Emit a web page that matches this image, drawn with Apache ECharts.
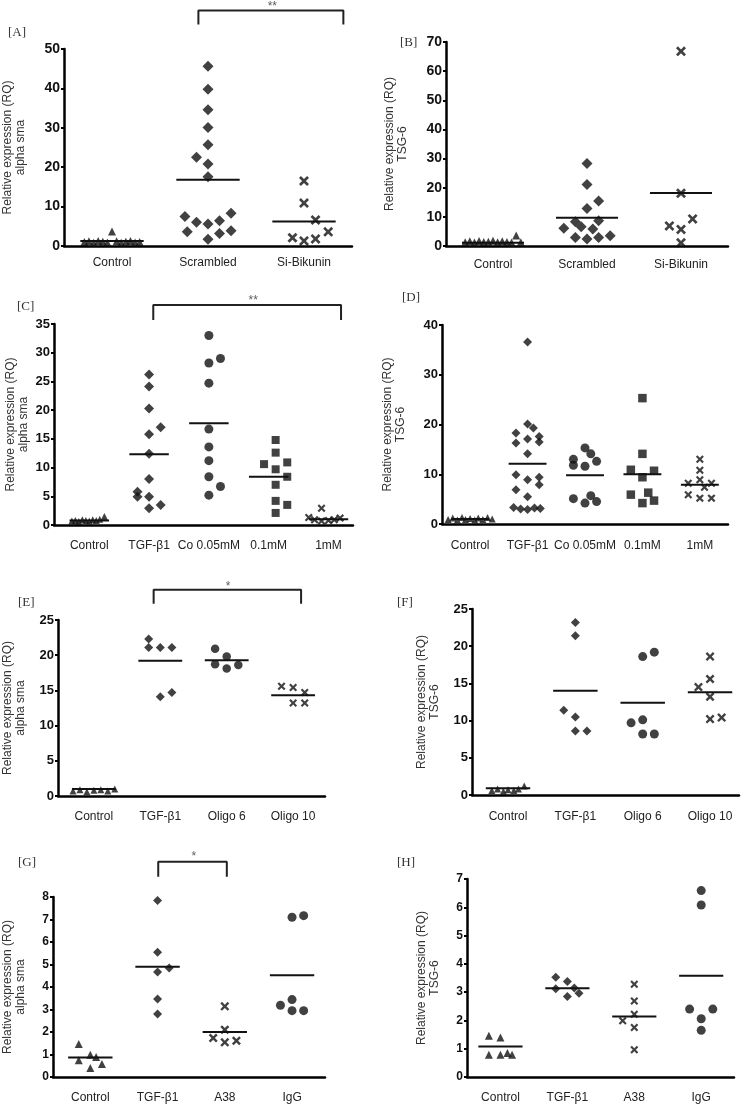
<!DOCTYPE html>
<html>
<head>
<meta charset="utf-8">
<script src="https://cdn.jsdelivr.net/npm/echarts@6/dist/echarts.min.js"></script>
<style>
  html, body { margin: 0; background: #fff; }
  #chart { width: 745px; height: 1106px; }
</style>
</head>
<body>
<div id="chart"></div>
<script>
// category labels
const catsA = ['Control', 'Scrambled', 'Si-Bikunin']
const catsC = ['Control', 'TGF-β1', 'Co 0.05mM', '0.1mM', '1mM']
const catsE = ['Control', 'TGF-β1', 'Oligo 6', 'Oligo 10']
const catsG = ['Control', 'TGF-β1', 'A38', 'IgG']

// values + horizontal spread (in dot columns)
// [A] alpha sma
const aControl = [1.0, 1.2, 0.8, 1.3, 1.1, 0.9, 3.7, 1.2, 0.8, 1.1, 1.3, 0.9, 1.0]
const aControlX = [-2.4, -2.0, -1.6, -1.2, -0.8, -0.4, 0, 0.4, 0.8, 1.2, 1.6, 2.0, 2.4]
const aScr = [45.6, 39.8, 34.6, 30.1, 25.7, 22.5, 20.8, 17.6, 7.5, 6.0, 5.6, 6.4, 8.3, 3.6, 1.7, 3.2, 3.9]
const aScrX = [0, 0, 0, 0, 0, -1, 0, 0, -2, -1, 0, 1, 2, -1.8, 0, 1, 2]
const aSi = [16.5, 10.9, 6.6, 3.6, 2.1, 1.3, 1.8]
const aSiX = [0, 0, 1, 2.1, -1, 0, 1]
const aMeans = [1.3, 16.8, 6.2]
const bracketA = [1.40, 2.91, 56.2, 59.8]
const starA = [2.17, 60.7, '**']

// [B] TSG-6
const bControl = [1.3, 1.6, 1.2, 1.7, 1.4, 1.5, 1.8, 1.3, 1.6, 1.4, 1.2, 3.6, 1.3]
const bControlX = [-2.4, -2.0, -1.6, -1.2, -0.8, -0.4, 0, 0.4, 0.8, 1.2, 1.6, 2.0, 2.4]
const bScr = [28.3, 21.1, 15.4, 12.9, 8.3, 8.7, 6.1, 6.6, 5.8, 2.9, 2.4, 2.9, 3.5]
const bScrX = [0, 0, 1, 0, -1, 1, -2, -0.5, 0.5, -1, 0, 1, 2]
const bSi = [66.8, 18.1, 9.3, 6.9, 5.7, 1.1]
const bSiX = [0, 0, 1, -1, 0, 0]
const bMeans = [1.1, 9.7, 18.2]

// [C] alpha sma
const cControl = [0.7, 0.8, 0.6, 0.9, 0.8, 0.7, 0.9, 0.8, 1.0, 1.5]
const cControlX = [-1.5, -1.2, -0.9, -0.6, -0.3, 0, 0.3, 0.6, 0.9, 1.3]
const cTgf = [26.2, 24.1, 20.3, 17.0, 15.8, 12.4, 8.0, 5.8, 4.9, 4.9, 3.5, 2.9]
const cTgfX = [0, 0, 0, 1, 0, 0, 0, -1, -1, 0, 1, 0]
const cCo = [33.0, 28.2, 29.0, 24.7, 16.7, 13.6, 11.2, 8.4, 6.7, 5.2]
const cCoX = [0, 0, 1, 0, 0, 0, 0, 0, 1, 0]
const cMid = [14.8, 12.6, 10.6, 9.7, 10.9, 8.4, 7.0, 4.2, 3.5, 2.1]
const cMidX = [0.6, 0.6, -0.4, 0.6, 1.6, 1.6, 0.6, 0.6, 1.6, 0.6]
const cHigh = [1.3, 0.9, 0.7, 0.8, 0.9, 1.2, 2.9]
const cHighX = [-1.7, -1.2, -0.6, 0, 0.5, 1.0, -0.6]
const cMeans = [0.8, 12.3, 17.7, 8.4, 1.0]
const bracketC = [1.57, 4.71, 35.7, 38.3]
const starC = [3.24, 39.0, '**']

// [D] TSG-6
const dControl = [0.9, 1.2, 0.8, 1.3, 0.9, 1.1, 0.8, 1.2, 0.9, 1.3, 1.0]
const dControlX = [-1.9, -1.5, -1.1, -0.7, -0.4, 0, 0.4, 0.7, 1.1, 1.5, 1.9]
const dTgf = [36.6, 20.1, 19.3, 18.3, 17.6, 16.3, 17.1, 16.5, 14.1, 9.9, 8.9, 9.4, 7.9, 6.9, 5.5, 3.3, 3.0, 2.9, 3.2, 3.1]
const dTgfX = [0, 0, 0.5, -1, 1, -1, 0, 1, 0, -1, 0, 1, 1, -1, 0, -1.2, -0.6, 0, 0.6, 1.1]
const dCo = [15.3, 14.1, 13.0, 12.6, 11.8, 11.6, 5.1, 5.7, 4.2, 4.5]
const dCoX = [0, 0.5, -1, 1, -1, 0, -1, 0.5, 0, 1]
const dMid = [25.3, 14.1, 10.9, 9.4, 10.7, 5.9, 6.3, 4.2, 4.7]
const dMidX = [0, 0, -1, 0, 1, -1, 0.5, 0, 1]
const dHigh = [13.0, 10.8, 8.9, 8.2, 8.2, 7.4, 5.9, 5.2, 5.2]
const dHighX = [0, 0, 0, -1, 1, 0.4, -1, 0, 1]
const dMeans = [1.0, 12.1, 9.8, 10.0, 7.9]

// [E] alpha sma
const eControl = [0.7, 0.9, 0.6, 0.8, 0.9, 0.7, 1.0]
const eControlX = [-1.8, -1.2, -0.6, 0, 0.6, 1.2, 1.8]
const eTgf = [22.3, 21.1, 21.1, 21.1, 14.1, 14.7]
const eTgfX = [-1, -1, 0, 1, 0, 1]
const eOl6 = [20.9, 19.8, 18.7, 18.1, 18.6]
const eOl6X = [-1, 0, -1, 0, 1]
const eOl10 = [15.6, 15.4, 14.7, 13.2, 13.2]
const eOl10X = [-1, 0, 1, 0, 1]
const eMeans = [1.0, 19.2, 19.3, 14.3]
const bracketE = [1.40, 3.62, 27.3, 29.3]
const starE = [2.52, 29.7, '*']

// [F] TSG-6
const fControl = [0.6, 0.8, 0.5, 0.7, 0.6, 0.8, 1.2]
const fControlX = [-1.4, -0.9, -0.4, 0, 0.5, 0.9, 1.4]
const fTgf = [23.2, 21.4, 11.4, 10.5, 8.6, 8.6]
const fTgfX = [0, 0, -1, 0, 0, 1]
const fOl6 = [18.6, 19.2, 9.7, 10.1, 8.2, 8.2]
const fOl6X = [0, 1, -1, 0, 0, 1]
const fOl10 = [18.6, 15.6, 14.5, 13.2, 10.2, 10.4]
const fOl10X = [0, 0, -1, 0, 0, 1]
const fMeans = [0.9, 14.0, 12.4, 13.8]

// [G] alpha sma
const gControl = [1.47, 0.74, 0.99, 0.89, 0.58, 0.40]
const gControlX = [-1, -1, 0, 0.5, 1, 0]
const gTgf = [7.85, 5.54, 4.67, 4.84, 3.47, 2.80]
const gTgfX = [0, 0, 0, 1, 0, 0]
const gA38 = [3.14, 2.10, 1.73, 1.54, 1.61]
const gA38X = [0, 0, -1, 0, 1]
const gIgg = [7.10, 7.17, 3.19, 3.44, 2.95, 2.95]
const gIggX = [0, 1, -1, 0, 0, 1]
const gMeans = [0.87, 4.9, 2.0, 4.52]
const bracketG = [1.51, 2.53, 8.90, 9.57]
const starG = [2.04, 9.78, '*']

// [H] TSG-6
const hControl = [1.46, 1.40, 0.79, 0.79, 0.85, 0.79]
const hControlX = [-1, 0, -1, 0, 0.6, 1]
const hTgf = [3.53, 3.38, 3.12, 3.15, 2.85, 2.96]
const hTgfX = [-1, 0, -1, 0.6, 0, 1]
const hA38 = [3.28, 2.69, 2.22, 1.99, 1.75, 0.96]
const hA38X = [0, 0, 0, -1, 0, 0]
const hIgg = [6.59, 6.08, 2.40, 2.40, 2.06, 1.65]
const hIggX = [0, 0, -1, 1, 0, 0]
const hMeans = [1.08, 3.14, 2.14, 3.58]

const nameSma = 'Relative expression (RQ)\nalpha sma'
const nameTsg = 'Relative expression (RQ)\nTSG-6'

const FONT = '"Liberation Sans", Arial, sans-serif'
// filled X so the stroke scales with the marker
const CROSS = 'path://M0,1.9L1.9,0L5,3.1L8.1,0L10,1.9L6.9,5L10,8.1L8.1,10L5,6.9L1.9,10L0,8.1L3.1,5Z'
const shapes = { tri: 'triangle', dia: 'diamond', cir: 'circle', sq: 'rect', x: CROSS }

const grid = []
const xAxis = []
const yAxis = []
const series = []
const graphic = []

function panel(o) {
  const gi = grid.length
  const [l, t, w, h] = o.box
  grid.push({ left: l, top: t, width: w, height: h })
  const step = 11.6 * (o.xMax - o.xMin) / w

  xAxis.push({
    type: 'value', gridIndex: gi, min: o.xMin, max: o.xMax,
    axisLine: { onZero: false, lineStyle: { color: '#000', width: 2.5 } },
    axisTick: { show: false },
    splitLine: { show: false },
    axisLabel: {
      customValues: o.cats.map((c, i) => i + 0.5),
      formatter: v => o.cats[Math.round(v - 0.5)],
      margin: o.labelGap, fontSize: 12, color: '#222', fontFamily: FONT
    }
  })
  yAxis.push({
    type: 'value', gridIndex: gi, min: 0, max: o.yMax, interval: o.yStep,
    name: o.yName, nameLocation: 'middle', nameRotate: 90, nameGap: o.nameGap,
    nameTextStyle: { fontSize: 12, color: '#333', lineHeight: 13, fontFamily: FONT },
    axisLine: { show: true, onZero: false, lineStyle: { color: '#000', width: 2.5 } },
    axisTick: { show: true, length: 3, lineStyle: { color: '#000', width: 2 } },
    splitLine: { show: false },
    axisLabel: { fontSize: o.tickSize, fontWeight: 'bold', color: '#111', margin: 4, fontFamily: FONT }
  })

  o.groups.forEach((g, i) => {
    const c = i + 0.5
    series.push({
      type: 'scatter', xAxisIndex: gi, yAxisIndex: gi, silent: true, z: 3,
      symbol: shapes[g[2]], symbolSize: o.sizes[g[2]],
      itemStyle: { color: '#111' },
      data: g[0].map((v, j) => [c + g[1][j] * step, v])
    })
    series.push({
      type: 'line', xAxisIndex: gi, yAxisIndex: gi, silent: true, z: 4,
      symbol: 'none', lineStyle: { color: '#111', width: 2 },
      data: [[c - 0.33, o.means[i]], [c + 0.33, o.means[i]]]
    })
  })

  if (o.bracket) {
    const [x1, x2, yb, yt] = o.bracket
    series.push({
      type: 'line', xAxisIndex: gi, yAxisIndex: gi, silent: true, clip: false,
      symbol: 'none', lineStyle: { color: '#222', width: 2 },
      data: [[x1, yb], [x1, yt], [x2, yt], [x2, yb]]
    })
    series.push({
      type: 'scatter', xAxisIndex: gi, yAxisIndex: gi, silent: true, clip: false,
      symbolSize: 1, itemStyle: { color: 'rgba(0,0,0,0)' },
      label: { show: true, position: 'inside', formatter: o.star[2], fontSize: 12, color: '#333', fontFamily: FONT },
      data: [[o.star[0], o.star[1]]]
    })
  }

  graphic.push({
    type: 'text', left: o.tag[1], top: o.tag[2],
    style: { text: o.tag[0], font: '13px "Liberation Serif", serif', fill: '#333' }
  })
}

panel({
  tag: ['[A]', 8, 26], box: [62, 49, 290, 197], xMin: 0, xMax: 3,
  yMax: 50, yStep: 10, tickSize: 14, yName: nameSma, nameGap: 37, labelGap: 11,
  cats: catsA, means: aMeans, sizes: { tri: 8, dia: 11, x: 10 },
  groups: [[aControl, aControlX, 'tri'], [aScr, aScrX, 'dia'], [aSi, aSiX, 'x']],
  bracket: bracketA, star: starA
})
panel({
  tag: ['[B]', 400, 36], box: [446, 42, 282, 204], xMin: 0, xMax: 3,
  yMax: 70, yStep: 10, tickSize: 14, yName: nameTsg, nameGap: 37, labelGap: 13,
  cats: catsA, means: bMeans, sizes: { tri: 8, dia: 11, x: 10 },
  groups: [[bControl, bControlX, 'tri'], [bScr, bScrX, 'dia'], [bSi, bSiX, 'x']]
})
panel({
  tag: ['[C]', 17, 300], box: [54, 324, 299, 201], xMin: -0.09, xMax: 4.91,
  yMax: 35, yStep: 5, tickSize: 13, yName: nameSma, nameGap: 24, labelGap: 15,
  cats: catsC, means: cMeans, sizes: { tri: 7, dia: 10, cir: 9, sq: 8, x: 8 },
  groups: [[cControl, cControlX, 'tri'], [cTgf, cTgfX, 'dia'], [cCo, cCoX, 'cir'], [cMid, cMidX, 'sq'], [cHigh, cHighX, 'x']],
  bracket: bracketC, star: starC
})
panel({
  tag: ['[D]', 402, 291], box: [442, 325, 286, 199], xMin: 0.01, xMax: 4.99,
  yMax: 40, yStep: 10, tickSize: 13, yName: nameTsg, nameGap: 35, labelGap: 16,
  cats: catsC, means: dMeans, sizes: { tri: 7, dia: 9, cir: 9, sq: 8.5, x: 8 },
  groups: [[dControl, dControlX, 'tri'], [dTgf, dTgfX, 'dia'], [dCo, dCoX, 'cir'], [dMid, dMidX, 'sq'], [dHigh, dHighX, 'x']]
})
panel({
  tag: ['[E]', 18, 596], box: [58, 620, 267, 176], xMin: -0.04, xMax: 3.98,
  yMax: 25, yStep: 5, tickSize: 13, yName: nameSma, nameGap: 31, labelGap: 15,
  cats: catsE, means: eMeans, sizes: { tri: 7, dia: 9, cir: 8.5, x: 8 },
  groups: [[eControl, eControlX, 'tri'], [eTgf, eTgfX, 'dia'], [eOl6, eOl6X, 'cir'], [eOl10, eOl10X, 'x']],
  bracket: bracketE, star: starE
})
panel({
  tag: ['[F]', 397, 596], box: [472, 609, 267, 186], xMin: -0.035, xMax: 3.93,
  yMax: 25, yStep: 5, tickSize: 13, yName: nameTsg, nameGap: 31, labelGap: 16,
  cats: catsE, means: fMeans, sizes: { tri: 7, dia: 9, cir: 9, x: 9 },
  groups: [[fControl, fControlX, 'tri'], [fTgf, fTgfX, 'dia'], [fOl6, fOl6X, 'cir'], [fOl10, fOl10X, 'x']]
})
panel({
  tag: ['[G]', 18, 856], box: [53, 897, 272, 180], xMin: -0.055, xMax: 3.99,
  yMax: 8, yStep: 1, tickSize: 12, yName: nameSma, nameGap: 26, labelGap: 15,
  cats: catsG, means: gMeans, sizes: { tri: 8, dia: 9, cir: 9, x: 9 },
  groups: [[gControl, gControlX, 'tri'], [gTgf, gTgfX, 'dia'], [gA38, gA38X, 'x'], [gIgg, gIggX, 'cir']],
  bracket: bracketG, star: starG
})
panel({
  tag: ['[H]', 397, 856], box: [467, 879, 267, 198], xMin: 0, xMax: 3.99,
  yMax: 7, yStep: 1, tickSize: 12, yName: nameTsg, nameGap: 26, labelGap: 15,
  cats: catsG, means: hMeans, sizes: { tri: 8, dia: 9, cir: 9, x: 8 },
  groups: [[hControl, hControlX, 'tri'], [hTgf, hTgfX, 'dia'], [hA38, hA38X, 'x'], [hIgg, hIggX, 'cir']]
})

const chart = echarts.init(document.getElementById('chart'), null, { renderer: 'canvas' })
chart.setOption({
  backgroundColor: '#fff',
  animation: false,
  textStyle: { fontFamily: FONT },
  grid, xAxis, yAxis, series, graphic
})
</script>
</body>
</html>
